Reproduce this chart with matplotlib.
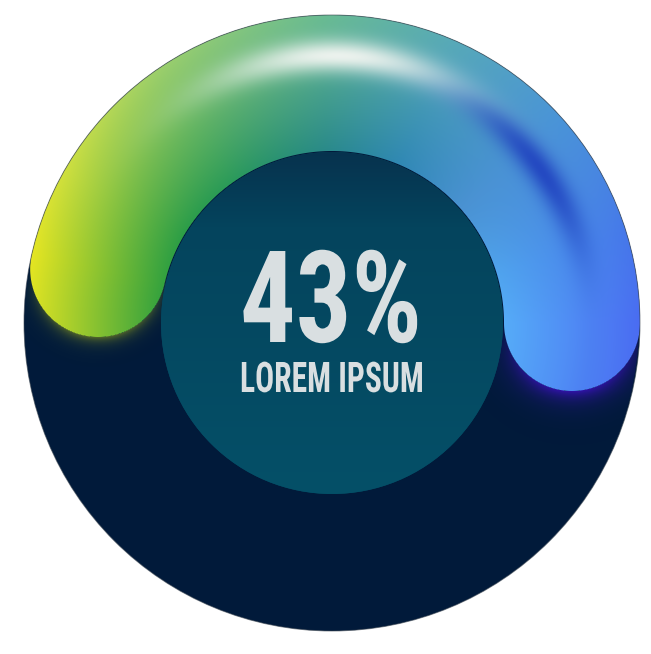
import numpy as np
import matplotlib
matplotlib.use("Agg")
import matplotlib.pyplot as plt
from matplotlib.patches import Circle
from matplotlib.colors import to_rgb
from matplotlib.patheffects import AbstractPathEffect
from matplotlib.transforms import Affine2D
from matplotlib import font_manager

W, H = 651, 654

# gauge data
pct_value = 43
value_text = f"{pct_value}%"
caption_text = "LOREM IPSUM"

# colour stops along the arc (0 = left start, 1 = right end)
stop_pos = [0.0, 0.1, 0.25, 0.45, 0.6, 0.75, 0.9, 1.0]
outer_colors = ["#e6e622", "#d0e03e", "#9ed06a", "#6abc92", "#58aab8", "#4a94d8", "#4678ea", "#4a6cf2"]
inner_colors = ["#34a23e", "#2c9e46", "#2a9a5a", "#2a8a8a", "#3088b4", "#4a92d2", "#50a4ee", "#56acf8"]

# layout in pixels, y axis pointing up
cx, cy = 332, 331
r_outer = 308
r_inner = 171
band_mid = 240
band_half = 68
arc_start = 167            # degrees, left end of the arc
deg_per_pct = 167 / 43     # arc length of one percent on this dial
arc_end = arc_start - pct_value * deg_per_pct

navy = "#011a3a"
text_col = "#d9dfe1"


def interp_colors(t, colors):
    rgb = np.array([to_rgb(c) for c in colors])
    return np.stack([np.interp(t, stop_pos, rgb[:, k]) for k in range(3)], axis=-1)


# pixel grid
yy, xx = np.mgrid[0:H, 0:W] + 0.5
dx, dy = xx - cx, yy - cy
rr = np.hypot(dx, dy)
th = np.degrees(np.arctan2(dy, dx))
th = np.where(th < -90, th + 360, th)

cap_pts = [(cx + band_mid * np.cos(np.radians(a)), cy + band_mid * np.sin(np.radians(a)))
           for a in (arc_start, arc_end)]
d_arc = np.where((th <= arc_start) & (th >= arc_end), np.abs(rr - band_mid), np.inf)
d_c0 = np.hypot(xx - cap_pts[0][0], yy - cap_pts[0][1])
d_c1 = np.hypot(xx - cap_pts[1][0], yy - cap_pts[1][1])
dist = np.minimum(d_arc, np.minimum(d_c0, d_c1))
band_alpha = np.clip(band_half + 0.5 - dist, 0, 1)

# colour of the band
t = np.clip((arc_start - th) / (arc_start - arc_end), 0, 1)
s = np.clip((rr - (band_mid - band_half)) / (2 * band_half), 0, 1)
col = interp_colors(t, inner_colors) * (1 - s[..., None]) + interp_colors(t, outer_colors) * s[..., None]

# glossy white highlight and the blue streak after it
white = 0.97 * np.exp(-((t - 0.47) / 0.16) ** 2) * np.exp(-((s - 0.70) / 0.12) ** 2)
blue = 0.8 * np.exp(-((t - 0.78) / 0.12) ** 2) * np.exp(-((s - 0.64) / 0.11) ** 2)
col = col * (1 - white[..., None]) + np.array(to_rgb("#f0f4f0")) * white[..., None]
col = col * (1 - blue[..., None]) + np.array(to_rgb("#1a38bc")) * blue[..., None]
band_img = np.dstack([col, band_alpha])

# soft glows below the two caps
outside = dist > band_half
inside_disc = np.clip(r_outer - 0.5 - rr, 0, 1)
g0 = np.where(outside, np.exp(-np.maximum(d_c0 - band_half, 0) / 6), 0)
g0 *= np.clip((cap_pts[0][1] - yy) / band_half, 0, 1) * 0.6 * inside_disc
g1 = np.where(outside, np.exp(-np.maximum(d_c1 - band_half, 0) / 10), 0)
g1 *= np.clip((cap_pts[1][1] - yy) / band_half, 0, 1) * 0.9 * inside_disc
ga = 1 - (1 - g0) * (1 - g1)
gsum = np.maximum(g0 + g1, 1e-6)
glow_rgb = (np.array(to_rgb("#8a9a1e")) * g0[..., None] + np.array(to_rgb("#3612b4")) * g1[..., None]) / gsum[..., None]
glow_img = np.dstack([glow_rgb, ga])

# inner disc shading, darker at the top edge
v = np.clip((cy + r_inner - yy) / (2 * r_inner), 0, 1)
inner_rgb = np.stack([np.interp(v, [0, 0.22, 1], [to_rgb(c)[k] for c in ("#07324e", "#04445d", "#045068")])
                      for k in range(3)], axis=-1)


class Condense(AbstractPathEffect):
    """Squeeze glyphs horizontally around x0."""

    def __init__(self, sx, x0):
        super().__init__()
        self.squeeze = Affine2D().translate(-x0, 0).scale(sx, 1).translate(x0, 0)

    def draw_path(self, renderer, gc, tpath, affine, rgbFace=None):
        renderer.draw_path(gc, tpath, affine + self.squeeze, rgbFace)


fig = plt.figure(figsize=(W / 100, H / 100), dpi=100)
ax = fig.add_axes([0, 0, 1, 1])
ax.set_xlim(0, W)
ax.set_ylim(0, H)
ax.axis("off")

ax.add_patch(Circle((cx, cy), r_outer, facecolor=navy, edgecolor="none", zorder=1))
ax.imshow(glow_img, extent=(0, W, 0, H), origin="lower", zorder=2, interpolation="nearest")
ax.imshow(band_img, extent=(0, W, 0, H), origin="lower", zorder=3, interpolation="nearest")
ax.add_patch(Circle((cx, cy), r_outer, facecolor="none", edgecolor="#3c4650", lw=0.7, alpha=0.6, zorder=3.5))

disc = Circle((cx, cy), r_inner, facecolor="#04465e", edgecolor="none", zorder=4)
ax.add_patch(disc)
im = ax.imshow(inner_rgb, extent=(0, W, 0, H), origin="lower", zorder=4.5, interpolation="nearest")
im.set_clip_path(disc)

# condensed lettering
names = {f.name for f in font_manager.fontManager.ttflist}
family = "Roboto Condensed" if "Roboto Condensed" in names else "DejaVu Sans"
cap_ratio = 0.711 if family.startswith("Roboto") else 0.729

renderer = fig.canvas.get_renderer()


def place_text(txt, x, y, cap_px, width_px):
    size = cap_px / cap_ratio * 72 / 100
    t_obj = ax.text(x, y, txt, ha="center", va="baseline", color=text_col,
                    fontsize=size, fontweight="semibold", family=family, zorder=6)
    w = t_obj.get_window_extent(renderer).width
    x0 = ax.transData.transform((x, y))[0]
    t_obj.set_path_effects([Condense(width_px / w, x0)])
    return t_obj


place_text(value_text, 331, H - 342, 91, 182)
place_text(caption_text, 332, H - 392, 30, 184)

fig.savefig("out.png", dpi=100)
